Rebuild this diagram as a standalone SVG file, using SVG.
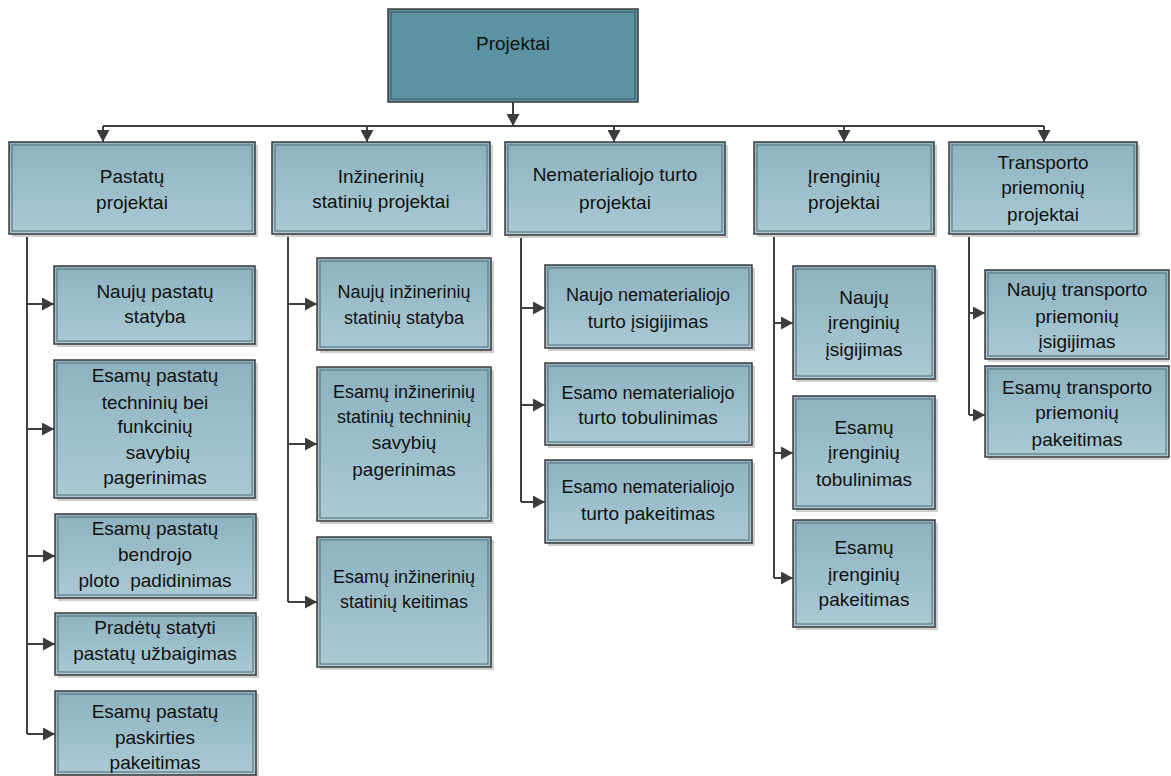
<svg xmlns="http://www.w3.org/2000/svg" width="1171" height="776" viewBox="0 0 1171 776">
<style>
.sh{fill:#cfcfcf}
.ob{fill:url(#g);stroke:#3a3a3a;stroke-width:1.5}
.ib{fill:none;stroke:#5f7a84;stroke-width:1.2}
.rootb{fill:#5b93a2;stroke:#3a3a3a;stroke-width:1.5}
.rooti{fill:none;stroke:#3f5f68;stroke-width:1.2}
text{font-family:"Liberation Sans",Arial,sans-serif;font-size:19px;fill:#111;text-anchor:middle}
.s{font-size:18px}
.c{fill:none;stroke:#404040;stroke-width:2}
.a{marker-end:url(#arr)}
</style>
<defs>
<linearGradient id="g" x1="0" y1="0" x2="0" y2="1">
<stop offset="0" stop-color="#8db2c0"/>
<stop offset="1" stop-color="#aacad4"/>
</linearGradient>
<marker id="arr" markerUnits="userSpaceOnUse" markerWidth="13" markerHeight="13" refX="12" refY="6.5" orient="auto">
<path d="M0,0 L12,6.5 L0,13 z" fill="#3c3c3c"/>
</marker>
</defs>
<rect width="1171" height="776" fill="#fff"/>
<g id="connectors">
<path class="c a" d="M513,102 V126"/>
<path class="c" d="M103,126 H1044"/>
<path class="c a" d="M103,126 V142"/>
<path class="c a" d="M367,126 V142"/>
<path class="c a" d="M614,126 V142"/>
<path class="c a" d="M844,126 V142"/>
<path class="c a" d="M1044,126 V142"/>
<path class="c" d="M27,234 V734"/>
<path class="c a" d="M27,304 H54"/>
<path class="c a" d="M27,429 H54"/>
<path class="c a" d="M27,556 H55"/>
<path class="c a" d="M27,644 H55"/>
<path class="c a" d="M27,734 H55"/>
<path class="c" d="M288,234 V602"/>
<path class="c a" d="M288,304 H317"/>
<path class="c a" d="M288,444 H317"/>
<path class="c a" d="M288,602 H317"/>
<path class="c" d="M521,235 V502"/>
<path class="c a" d="M521,308 H545"/>
<path class="c a" d="M521,405 H545"/>
<path class="c a" d="M521,502 H545"/>
<path class="c" d="M774,234 V578"/>
<path class="c a" d="M774,323 H793"/>
<path class="c a" d="M774,453 H793"/>
<path class="c a" d="M774,578 H793"/>
<path class="c" d="M969,234 V415"/>
<path class="c a" d="M969,313 H985"/>
<path class="c a" d="M969,415 H985"/>
</g>
<g id="root">
<rect class="rootb" x="388" y="9" width="250" height="93"/>
<rect class="rooti" x="391" y="12" width="244" height="87"/>
<text x="513" y="50">Projektai</text>
</g>
<g id="pastatu">
<rect class="sh" x="12" y="145" width="246" height="92"/>
<rect class="ob" x="9" y="142" width="246" height="92"/>
<rect class="ib" x="12" y="145" width="240" height="86"/>
<text x="132" y="183">Pastatų</text>
<text x="132" y="209">projektai</text>
</g>
<g id="p1">
<rect class="sh" x="57" y="269" width="201" height="78"/>
<rect class="ob" x="54" y="266" width="201" height="78"/>
<rect class="ib" x="57" y="269" width="195" height="72"/>
<text x="155" y="298">Naujų pastatų</text>
<text x="155" y="323">statyba</text>
</g>
<g id="p2">
<rect class="sh" x="57" y="363" width="201" height="138"/>
<rect class="ob" x="54" y="360" width="201" height="138"/>
<rect class="ib" x="57" y="363" width="195" height="132"/>
<text x="155" y="382">Esamų pastatų</text>
<text x="155" y="409">techninių bei</text>
<text x="155" y="433">funkcinių</text>
<text x="158" y="459">savybių</text>
<text x="155" y="484">pagerinimas</text>
</g>
<g id="p3">
<rect class="sh" x="58" y="517" width="201" height="84"/>
<rect class="ob" x="55" y="514" width="201" height="84"/>
<rect class="ib" x="58" y="517" width="195" height="78"/>
<text x="155" y="535">Esamų pastatų</text>
<text x="155" y="561">bendrojo</text>
<text x="155" y="587">ploto&#160; padidinimas</text>
</g>
<g id="p4">
<rect class="sh" x="58" y="616" width="201" height="62"/>
<rect class="ob" x="55" y="613" width="201" height="62"/>
<rect class="ib" x="58" y="616" width="195" height="56"/>
<text x="155" y="634">Pradėtų statyti</text>
<text x="155" y="660">pastatų užbaigimas</text>
</g>
<g id="p5">
<rect class="sh" x="58" y="694" width="201" height="84"/>
<rect class="ob" x="55" y="691" width="201" height="84"/>
<rect class="ib" x="58" y="694" width="195" height="78"/>
<text x="155" y="718">Esamų pastatų</text>
<text x="155" y="744">paskirties</text>
<text x="155" y="769">pakeitimas</text>
</g>
<g id="inzineriniu">
<rect class="sh" x="275" y="145" width="218" height="92"/>
<rect class="ob" x="272" y="142" width="218" height="92"/>
<rect class="ib" x="275" y="145" width="212" height="86"/>
<text x="381" y="183">Inžinerinių</text>
<text x="381" y="208">statinių projektai</text>
</g>
<g id="i1">
<rect class="sh" x="320" y="261" width="174" height="92"/>
<rect class="ob" x="317" y="258" width="174" height="92"/>
<rect class="ib" x="320" y="261" width="168" height="86"/>
<text class="s" x="404" y="298">Naujų inžinerinių</text>
<text class="s" x="404" y="324">statinių statyba</text>
</g>
<g id="i2">
<rect class="sh" x="320" y="370" width="174" height="154"/>
<rect class="ob" x="317" y="367" width="174" height="154"/>
<rect class="ib" x="320" y="370" width="168" height="148"/>
<text class="s" x="404" y="398">Esamų inžinerinių</text>
<text class="s" x="404" y="423">statinių techninių</text>
<text x="404" y="449">savybių</text>
<text x="404" y="476">pagerinimas</text>
</g>
<g id="i3">
<rect class="sh" x="320" y="540" width="174" height="130"/>
<rect class="ob" x="317" y="537" width="174" height="130"/>
<rect class="ib" x="320" y="540" width="168" height="124"/>
<text class="s" x="404" y="583">Esamų inžinerinių</text>
<text class="s" x="404" y="608">statinių keitimas</text>
</g>
<g id="nematerialiojo">
<rect class="sh" x="508" y="145" width="220" height="93"/>
<rect class="ob" x="505" y="142" width="220" height="93"/>
<rect class="ib" x="508" y="145" width="214" height="87"/>
<text x="615" y="181">Nematerialiojo turto</text>
<text x="615" y="209">projektai</text>
</g>
<g id="n1">
<rect class="sh" x="548" y="268" width="207" height="83"/>
<rect class="ob" x="545" y="265" width="207" height="83"/>
<rect class="ib" x="548" y="268" width="201" height="77"/>
<text class="s" x="648" y="301">Naujo nematerialiojo</text>
<text x="648" y="328">turto įsigijimas</text>
</g>
<g id="n2">
<rect class="sh" x="548" y="366" width="207" height="82"/>
<rect class="ob" x="545" y="363" width="207" height="82"/>
<rect class="ib" x="548" y="366" width="201" height="76"/>
<text class="s" x="648" y="399">Esamo nematerialiojo</text>
<text x="648" y="424">turto tobulinimas</text>
</g>
<g id="n3">
<rect class="sh" x="548" y="463" width="207" height="83"/>
<rect class="ob" x="545" y="460" width="207" height="83"/>
<rect class="ib" x="548" y="463" width="201" height="77"/>
<text class="s" x="648" y="493">Esamo nematerialiojo</text>
<text x="648" y="520">turto pakeitimas</text>
</g>
<g id="irenginiu">
<rect class="sh" x="757" y="145" width="180" height="92"/>
<rect class="ob" x="754" y="142" width="180" height="92"/>
<rect class="ib" x="757" y="145" width="174" height="86"/>
<text x="844" y="183">Įrenginių</text>
<text x="844" y="209">projektai</text>
</g>
<g id="r1">
<rect class="sh" x="796" y="269" width="142" height="113"/>
<rect class="ob" x="793" y="266" width="142" height="113"/>
<rect class="ib" x="796" y="269" width="136" height="107"/>
<text x="864" y="304">Naujų</text>
<text x="864" y="329">įrenginių</text>
<text x="864" y="356">įsigijimas</text>
</g>
<g id="r2">
<rect class="sh" x="796" y="399" width="142" height="113"/>
<rect class="ob" x="793" y="396" width="142" height="113"/>
<rect class="ib" x="796" y="399" width="136" height="107"/>
<text x="864" y="434">Esamų</text>
<text x="864" y="459">įrenginių</text>
<text x="864" y="486">tobulinimas</text>
</g>
<g id="r3">
<rect class="sh" x="796" y="523" width="142" height="107"/>
<rect class="ob" x="793" y="520" width="142" height="107"/>
<rect class="ib" x="796" y="523" width="136" height="101"/>
<text x="864" y="554">Esamų</text>
<text x="864" y="581">įrenginių</text>
<text x="864" y="606">pakeitimas</text>
</g>
<g id="transporto">
<rect class="sh" x="952" y="145" width="188" height="92"/>
<rect class="ob" x="949" y="142" width="188" height="92"/>
<rect class="ib" x="952" y="145" width="182" height="86"/>
<text x="1043" y="169">Transporto</text>
<text x="1043" y="194">priemonių</text>
<text x="1043" y="221">projektai</text>
</g>
<g id="t1">
<rect class="sh" x="988" y="273" width="181" height="89"/>
<rect class="ob" x="985" y="270" width="184" height="89"/>
<rect class="ib" x="988" y="273" width="178" height="83"/>
<text x="1077" y="296">Naujų transporto</text>
<text x="1077" y="323">priemonių</text>
<text x="1077" y="348">įsigijimas</text>
</g>
<g id="t2">
<rect class="sh" x="988" y="369" width="181" height="91"/>
<rect class="ob" x="985" y="366" width="184" height="91"/>
<rect class="ib" x="988" y="369" width="178" height="85"/>
<text x="1077" y="394">Esamų transporto</text>
<text x="1077" y="419">priemonių</text>
<text x="1077" y="446">pakeitimas</text>
</g>
</svg>
